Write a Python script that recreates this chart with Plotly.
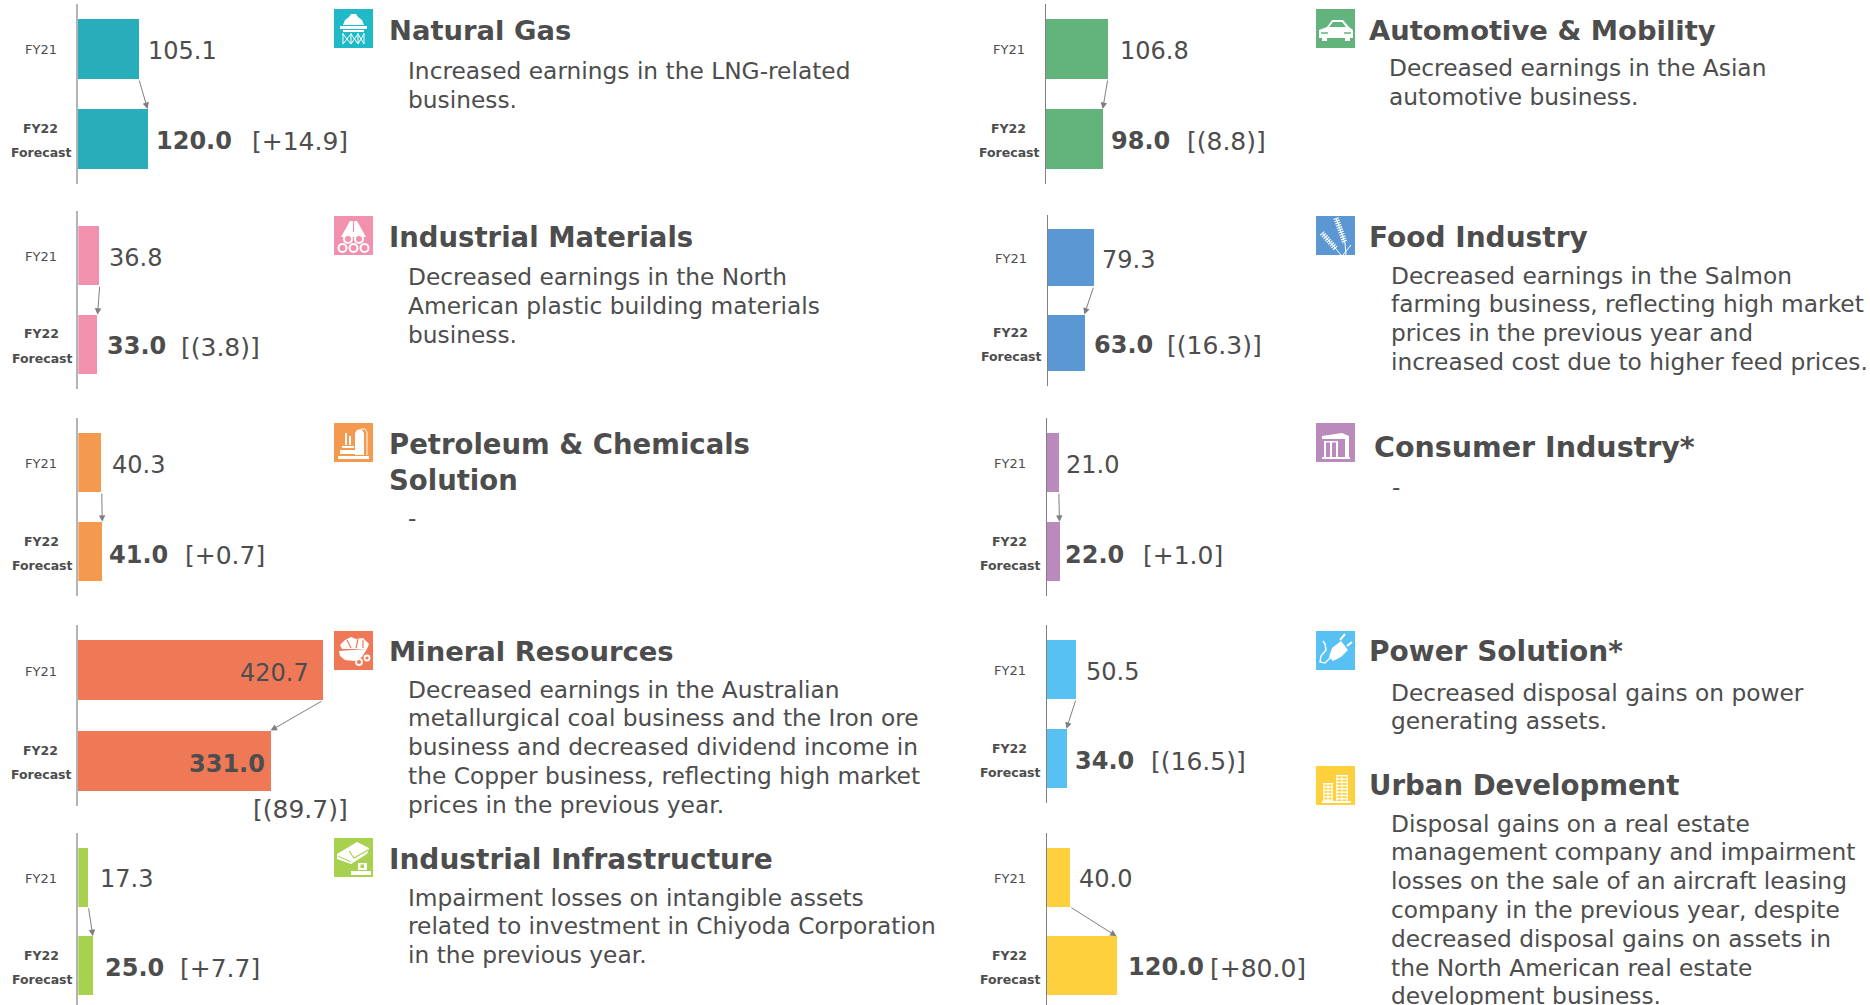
import plotly.graph_objects as go

W, H = 1870, 1005
PX_PER_UNIT = 0.583

# ---------- data ----------
segments = ["Natural Gas", "Industrial Materials", "Petroleum & Chemicals<br>Solution", "Mineral Resources",
            "Industrial Infrastructure", "Automotive & Mobility", "Food Industry", "Consumer Industry*",
            "Power Solution*", "Urban Development"]
fy21 = [105.1, 36.8, 40.3, 420.7, 17.3, 106.8, 79.3, 21.0, 50.5, 40.0]
fy22 = [120.0, 33.0, 41.0, 331.0, 25.0, 98.0, 63.0, 22.0, 34.0, 120.0]
changes = ["[+14.9]", "[(3.8)]", "[+0.7]", "[(89.7)]", "[+7.7]", "[(8.8)]", "[(16.3)]", "[+1.0]", "[(16.5)]", "[+80.0]"]
notes = [
    "Increased earnings in the LNG-related<br>business.",
    "Decreased earnings in the North<br>American plastic building materials<br>business.",
    "-",
    "Decreased earnings in the Australian<br>metallurgical coal business and the Iron ore<br>business and decreased dividend income in<br>the Copper business, reflecting high market<br>prices in the previous year.",
    "Impairment losses on intangible assets<br>related to investment in Chiyoda Corporation<br>in the previous year.",
    "Decreased earnings in the Asian<br>automotive business.",
    "Decreased earnings in the Salmon<br>farming business, reflecting high market<br>prices in the previous year and<br>increased cost due to higher feed prices.",
    "-",
    "Decreased disposal gains on power<br>generating assets.",
    "Disposal gains on a real estate<br>management company and impairment<br>losses on the sale of an aircraft leasing<br>company in the previous year, despite<br>decreased disposal gains on assets in<br>the North American real estate<br>development business.",
]
bar_colors = ["#28AEBB", "#F191AE", "#F49A4E", "#EF7957", "#A8D14F", "#62B47C", "#5B97D3", "#BA8ABD", "#56C1F2", "#FFD03D"]
icon_colors = ["#20B9C8", "#F191AE", "#F49A4E", "#EF7957", "#A8D14F", "#62B47C", "#5B97D3", "#BA8ABD", "#56C1F2", "#FFD03D"]

# ---------- layout (pixels) ----------
panel_left = [77.6, 78.3, 78.3, 77.6, 78.3, 1045.6, 1047.6, 1046.6, 1046.6, 1046.6]
panel_top = [4, 211, 418, 625, 833, 4, 215, 418, 625, 833]
panel_bot = [184, 389, 596, 806, 1010, 184, 385.7, 596, 803, 1010]
axis_col = ["#B4B4B4"] * 5 + ["#808080"] * 5
axis_wid = [2] * 5 + [1.2] * 5
lab21 = [(146.5, 51), (107.5, 258), (110.5, 465), (237.5, 673), (97.5, 879), (1118.5, 51), (1100.5, 260), (1064.5, 465), (1084.5, 672), (1076.5, 879)]
lab22 = [(154, 141), (105, 346), (107, 555), (187, 764), (103, 968), (1109, 141), (1092, 345), (1063, 555), (1073, 761), (1126, 967)]
labch = [(251.5, 141), (180.5, 347), (184.5, 555), (252.5, 809), (179.5, 968), (1186.5, 141), (1166.5, 345), (1142.5, 555), (1150.5, 761), (1209.5, 968)]
icon_pos = [(334, 9), (334, 216), (334, 423), (334, 631), (334, 838), (1316, 9), (1316, 216), (1316, 423), (1316, 631), (1316, 766)]
title_pos = [(388.5, 30.5), (388.5, 237), (388.5, 462), (388.5, 651), (388.5, 859), (1369, 30.5), (1369, 237), (1374, 447), (1369, 651), (1369, 785)]
title_size = [27.4, 27.5, 27.5, 27.4, 28, 27.4, 28, 28.5, 28, 27.6]
note_pos = [(408, 71), (408, 277), (408, 517), (408, 689), (408, 897), (1389, 68), (1391, 275), (1392, 486), (1391, 692), (1391, 823)]
LINE_PITCH = 28.8

FONT = "DejaVu Sans"
TXT = "#4D4D4D"
fig = go.Figure()
ann = []
shapes = []
lay = {}


def px(x):
    return x / W


def py(y):
    return 1 - y / H


def text(x, y, s, size, xanchor="left", align="left"):
    ann.append(dict(xref="paper", yref="paper", x=px(x), y=py(y), text=s,
                    showarrow=False, xanchor=xanchor, yanchor="middle", align=align,
                    font=dict(family=FONT, size=size, color=TXT),
                    borderpad=0, borderwidth=0))


for i in range(10):
    s = "" if i == 0 else str(i + 1)
    L, T, B = panel_left[i], panel_top[i], panel_bot[i]
    band = (B - T) / 2
    Bc = min(B, H)
    DW = 300
    fig.add_trace(go.Bar(x=[fy21[i], fy22[i]], y=[0, 1], orientation="h", width=2 / 3,
                         marker=dict(color=bar_colors[i], line=dict(width=0)), xaxis="x" + s, yaxis="y" + s,
                         showlegend=False, hoverinfo="x"))
    lay["xaxis" + s] = dict(domain=[px(L), px(L + DW)], range=[0, DW / PX_PER_UNIT], anchor="y" + s, visible=False, fixedrange=True)
    lay["yaxis" + s] = dict(domain=[py(Bc), py(T)], range=[(Bc - T) / band - 0.5, -0.5], anchor="x" + s, showgrid=False, zeroline=False,
                            showticklabels=False, ticks="", showline=True, linecolor=axis_col[i], linewidth=axis_wid[i], fixedrange=True)
    # value labels, tied to the bars through the axes
    for val, (lx, ly), yy, bold, label in [(fy21[i], lab21[i], 0, False, f"{fy21[i]:.1f}"),
                                           (fy22[i], lab22[i], 1, True, f"{fy22[i]:.1f}")]:
        ann.append(dict(xref="x" + s, yref="y" + s, x=val, y=yy, text=f"<b>{label}</b>" if bold else label, showarrow=False,
                        xanchor="left", yanchor="middle", xshift=lx - (L + val * PX_PER_UNIT),
                        yshift=-(ly - (T + band * (yy + 0.5))),
                        font=dict(family=FONT, size=24, color=TXT)))
    text(labch[i][0], labch[i][1], changes[i], 25)
    # arrow between the two bar ends
    ann.append(dict(xref="x" + s, yref="y" + s, axref="x" + s, ayref="y" + s, x=fy22[i], y=2 / 3, ax=fy21[i], ay=1 / 3,
                    text="", showarrow=True, arrowhead=2, arrowsize=1.3, arrowwidth=1, arrowcolor="#7F7F7F", standoff=0, startstandoff=0))
    # category labels
    cx = L - 37
    c1 = T + band * 0.5
    c2 = T + band * 1.5
    text(cx, c1 + 1, "FY21", 13, xanchor="center", align="center")
    text(cx, c2 - 10.5, "<b>FY22</b>", 12.5, xanchor="center", align="center")
    text(cx + 1, c2 + 13.5, "<b>Forecast</b>", 12.5, xanchor="center", align="center")
    # headers and notes
    tt = segments[i]
    text(title_pos[i][0], title_pos[i][1], f"<b>{tt}</b>".replace("<br>", "</b><br><b>"), title_size[i])
    for k, ln in enumerate(notes[i].split("<br>")):
        text(note_pos[i][0], note_pos[i][1] + k * LINE_PITCH, ln, 23.3)


# ---------- icons: coloured tiles with simple white pictograms ----------
def tile(i):
    ox, oy = icon_pos[i]
    shapes.append(dict(type="rect", xref="paper", yref="paper", x0=px(ox), x1=px(ox + 39), y0=py(oy + 39), y1=py(oy),
                       fillcolor=icon_colors[i], line=dict(width=0), layer="below"))


def poly(i, pts, fill="white", stroke=None, w=1, closed=True, dash="solid"):
    ox, oy = icon_pos[i]
    d = " ".join(("M" if k == 0 else "L") + f"{px(ox + x):.6f},{py(oy + y):.6f}" for k, (x, y) in enumerate(pts))
    shapes.append(dict(type="path", xref="paper", yref="paper", path=d + (" Z" if closed else ""),
                       fillcolor=fill if closed else "rgba(0,0,0,0)",
                       line=dict(color=stroke or "rgba(0,0,0,0)", width=w, dash=dash)))


def circ(i, cx, cy, r, fill=None, w=1.5):
    ox, oy = icon_pos[i]
    shapes.append(dict(type="circle", xref="paper", yref="paper", x0=px(ox + cx - r), x1=px(ox + cx + r),
                       y0=py(oy + cy + r), y1=py(oy + cy - r), fillcolor=fill or "rgba(0,0,0,0)", line=dict(color="white", width=w)))


def rect(i, x0, y0, x1, y1, fill="white"):
    poly(i, [(x0, y0), (x1, y0), (x1, y1), (x0, y1)], fill=fill)


def line(i, pts, w=1, color="white", dash="solid"):
    poly(i, pts, stroke=color, w=w, closed=False, dash=dash)


for i in range(10):
    tile(i)
# natural gas
poly(0, [(9, 16), (11, 11), (15, 8), (17, 5), (22, 5), (24, 8), (28, 11), (30, 16)])
rect(0, 6, 17, 33, 20)
rect(0, 9, 21, 30, 23)
for a in [9, 17, 24, 30]:
    line(0, [(a, 24), (a, 35)], 1)
line(0, [(9, 35), (17, 25), (24, 35), (30, 25)], 1)
line(0, [(9, 25), (17, 35), (24, 25), (30, 35)], 1)
# industrial materials
poly(1, [(16, 5), (23, 5), (32, 21), (7, 21)])
line(1, [(19.5, 5), (19.5, 16)], 1.2, icon_colors[1])
for cx, cy in [(14, 23), (25, 23), (8.5, 32), (19.5, 32), (30.5, 32)]:
    circ(1, cx, cy, 4, fill=icon_colors[1], w=2)
# petroleum
rect(2, 4, 33, 35, 36)
poly(2, [(21, 32), (21, 10), (23, 7), (27, 6), (30, 10), (30, 32)])
line(2, [(27, 6), (31, 6), (33, 9), (33, 32)], 1)
rect(2, 11, 10, 13, 22)
rect(2, 15, 13, 17, 22)
rect(2, 8, 23, 20, 25)
rect(2, 6, 27, 21, 31)
# mineral
poly(3, [(6, 14), (11, 9), (17, 6), (22, 8), (29, 7), (35, 13), (33, 18), (8, 18)])
line(3, [(13, 9), (17, 17)], 1.2, icon_colors[3])
line(3, [(24, 8), (22, 17)], 1.2, icon_colors[3])
line(3, [(29, 9), (29, 17)], 1.2, icon_colors[3])
poly(3, [(5, 20), (33, 18), (28, 26), (20, 30), (11, 29), (6, 25)])
circ(3, 25, 31, 3, fill=icon_colors[3], w=1.8)
circ(3, 33, 27, 2.5, fill=icon_colors[3], w=1.8)
# infrastructure
poly(4, [(3, 16), (23, 4), (35, 10), (33, 16), (17, 26), (3, 21)])
line(4, [(4, 18), (17, 24)], 1, icon_colors[4])
line(4, [(15, 13), (20, 20), (34, 12)], 1.2, icon_colors[4])
rect(4, 17, 33, 37, 37)
rect(4, 24, 25, 33, 32)
rect(4, 26.5, 26.5, 30, 30, fill=icon_colors[4])
# automotive
poly(5, [(3, 21), (11, 18), (16, 11), (27, 11), (33, 18), (37, 21), (37, 29), (3, 29)])
poly(5, [(13, 18), (17, 13), (26, 13), (30, 18)], fill=icon_colors[5])
line(5, [(5, 24), (12, 24)], 1.5, icon_colors[5])
line(5, [(28, 24), (35, 24)], 1.5, icon_colors[5])
rect(5, 6, 29, 11, 32)
rect(5, 29, 29, 34, 32)
# food
line(6, [(20, 2), (29, 27)], 5.5, dash="1.2px,1.2px")
line(6, [(20, 2), (29, 27), (30, 39)], 1)
line(6, [(6, 17), (20, 33)], 5.5, dash="1.2px,1.2px")
line(6, [(6, 17), (20, 33), (25, 39)], 1)
line(6, [(27, 39), (35, 29)], 1)
# consumer
poly(7, [(6, 13), (26, 10), (33, 13), (33, 16), (6, 16)])
rect(7, 6, 34, 34, 36)
rect(7, 8, 18, 10, 34)
rect(7, 14, 18, 16, 34)
rect(7, 20, 18, 22, 34)
rect(7, 29, 16, 33, 34)
rect(7, 8, 18, 22, 19.5)
# power
poly(8, [(13, 26), (16, 17), (25, 10), (32, 19), (25, 26), (17, 30)])
line(8, [(24, 9), (29, 3)], 2)
line(8, [(31, 15), (36, 11)], 2)
line(8, [(14, 27), (9, 32), (4, 31), (5, 25), (10, 19), (9, 13), (7, 10)], 1.4)
# urban
rect(9, 6, 35, 35, 37)
for x0, y0, x1 in [(7, 17, 17), (20, 9, 32)]:
    yy = y0
    while yy < 34:
        rect(9, x0, yy, x1, yy + 1.4)
        yy += 3.3
    line(9, [(x0 + 1, y0), (x0 + 1, 35)], 1)
    line(9, [(x1 - 1, y0), (x1 - 1, 35)], 1)
    line(9, [((x0 + x1) / 2, y0), ((x0 + x1) / 2, 35)], 1)

fig.update_layout(width=W, height=H, autosize=False, margin=dict(l=0, r=0, t=0, b=0), paper_bgcolor="white", plot_bgcolor="rgba(0,0,0,0)",
                  annotations=ann, shapes=shapes, bargap=0, showlegend=False, font=dict(family=FONT, color=TXT), **lay)
fig.write_html("out.html", config=dict(displayModeBar=False),
               post_script="document.body.style.margin='0';document.body.style.overflow='hidden';")
